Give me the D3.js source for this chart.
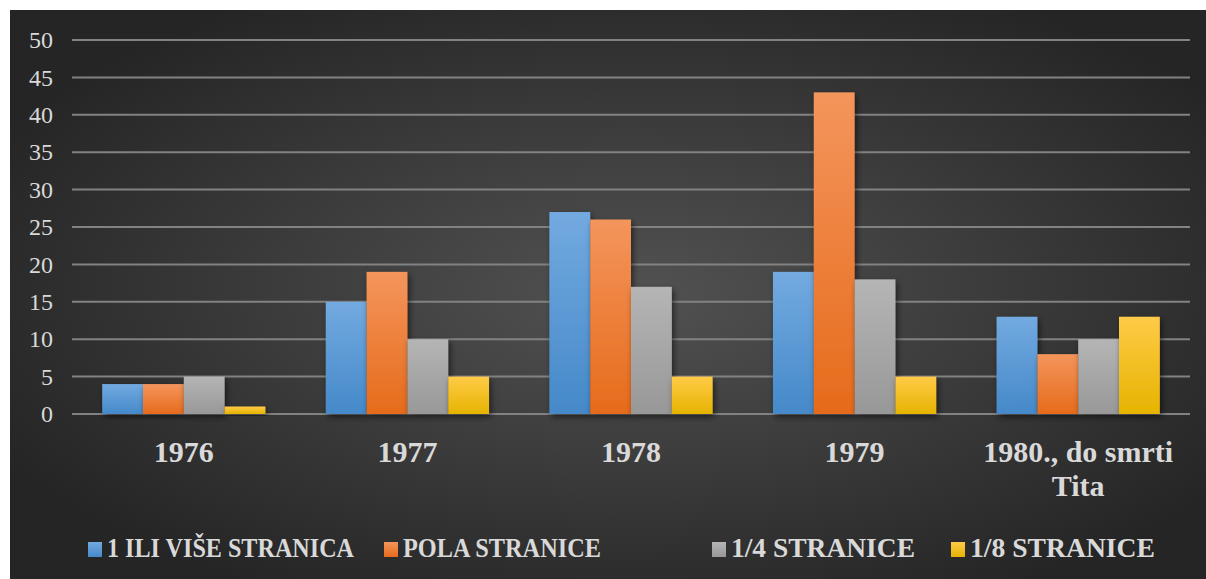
<!DOCTYPE html>
<html>
<head>
<meta charset="utf-8">
<script src="https://cdn.jsdelivr.net/npm/d3@7"></script>
<style>
body { margin: 0; background: #fff; }
svg text { font-family: "Liberation Serif", "Times New Roman", Times, serif; fill: #d9d9d9; }
</style>
</head>
<body>
<div id="chart"></div>
<script>
var categories = ["1976", "1977", "1978", "1979", "1980., do smrti Tita"];
var seriesNames = ["1 ILI VIŠE STRANICA", "POLA STRANICE", "1/4 STRANICE", "1/8 STRANICE"];
var jednaIliVise = [4, 15, 27, 19, 13];
var polaStranice = [4, 19, 26, 43, 8];
var cetvrtStranice = [5, 10, 17, 18, 10];
var osminaStranice = [1, 5, 5, 5, 13];
var yTicks = [0, 5, 10, 15, 20, 25, 30, 35, 40, 45, 50];

var seriesValues = [jednaIliVise, polaStranice, cetvrtStranice, osminaStranice];
var colorsTop = ["#73aae0", "#f4955c", "#b5b5b5", "#ffcb48"];
var colorsBot = ["#4589c9", "#e66b1b", "#989898", "#e6b300"];

var w = 1206, h = 579;
var svg = d3.select("#chart").append("svg")
	.attr("width", w)
	.attr("height", h);

var defs = svg.append("defs");
var bg = defs.append("radialGradient")
	.attr("id", "bg")
	.attr("cx", "52%").attr("cy", "50%").attr("r", "60%");
bg.append("stop").attr("offset", "0%").attr("stop-color", "#525252");
bg.append("stop").attr("offset", "100%").attr("stop-color", "#252525");

seriesNames.forEach(function(d, i) {
	var g = defs.append("linearGradient")
		.attr("id", "grad" + i)
		.attr("x1", 0).attr("y1", 0).attr("x2", 0).attr("y2", 1);
	g.append("stop").attr("offset", "0%").attr("stop-color", colorsTop[i]);
	g.append("stop").attr("offset", "100%").attr("stop-color", colorsBot[i]);
});

var shadow = defs.append("filter").attr("id", "shadow")
	.attr("x", "-20%").attr("y", "-10%").attr("width", "140%").attr("height", "130%");
shadow.append("feDropShadow")
	.attr("dx", 2).attr("dy", 3).attr("stdDeviation", 3)
	.attr("flood-color", "#000").attr("flood-opacity", 0.55);

svg.append("rect")
	.attr("x", 10).attr("y", 10)
	.attr("width", w - 10).attr("height", h - 10)
	.attr("fill", "url(#bg)");

var plotLeft = 72, plotRight = 1190, plotTop = 40, plotBottom = 414;

var x = d3.scaleBand()
	.domain(categories)
	.range([plotLeft, plotRight])
	.paddingInner(0.27)
	.paddingOuter(0.135);

var x1 = d3.scaleBand()
	.domain(d3.range(seriesNames.length))
	.range([0, x.bandwidth()]);

var y = d3.scaleLinear()
	.domain([0, 50])
	.range([plotBottom, plotTop]);

// grid lines
svg.append("g").selectAll("line")
	.data(yTicks)
	.enter()
	.append("line")
	.attr("x1", plotLeft).attr("x2", plotRight)
	.attr("y1", function(d) { return y(d); })
	.attr("y2", function(d) { return y(d); })
	.attr("stroke", "#828282")
	.attr("stroke-width", 2);

// y axis labels
var yAxis = d3.axisLeft(y).tickValues(yTicks).tickSize(0).tickPadding(0);
var yg = svg.append("g")
	.attr("transform", "translate(53,0)")
	.call(yAxis)
	.attr("font-family", null);
yg.select(".domain").remove();
yg.selectAll("text")
	.attr("fill", null)
	.style("font-size", "24px");

// bars
var groups = svg.append("g").selectAll("g")
	.data(categories)
	.enter()
	.append("g")
	.attr("transform", function(d) { return "translate(" + x(d) + ",0)"; });

groups.selectAll("rect")
	.data(function(d, ci) {
		return seriesValues.map(function(s, si) { return {s: si, v: s[ci]}; });
	})
	.enter()
	.append("rect")
	.attr("x", function(d) { return x1(d.s); })
	.attr("y", function(d) { return y(d.v); })
	.attr("width", x1.bandwidth())
	.attr("height", function(d) { return y(0) - y(d.v); })
	.attr("fill", function(d) { return "url(#grad" + d.s + ")"; })
	.attr("filter", "url(#shadow)");

// category labels
var catLines = {
	"1980., do smrti Tita": ["1980., do smrti", "Tita"]
};
var labels = svg.append("g").selectAll("text")
	.data(categories)
	.enter()
	.append("text")
	.attr("x", function(d) { return x(d) + x.bandwidth() / 2; })
	.attr("y", 462)
	.attr("text-anchor", "middle")
	.style("font-weight", "bold")
	.style("font-size", "30px");
labels.each(function(d) {
	var lines = catLines[d] || [d];
	var t = d3.select(this);
	lines.forEach(function(l, i) {
		t.append("tspan")
			.attr("x", x(d) + x.bandwidth() / 2)
			.attr("dy", i === 0 ? 0 : 34)
			.text(l);
	});
});

// legend
var legendX = [88, 384, 712, 951];
var legendW = [247, 198, 184, 185];
var legend = svg.append("g").selectAll("g")
	.data(seriesNames)
	.enter()
	.append("g")
	.attr("transform", function(d, i) { return "translate(" + legendX[i] + ",542)"; });
legend.append("rect")
	.attr("width", 14).attr("height", 15)
	.attr("fill", function(d, i) { return "url(#grad" + i + ")"; });
legend.append("text")
	.attr("x", 19)
	.attr("y", 15)
	.style("font-weight", "bold")
	.style("font-size", "27px")
	.attr("textLength", function(d, i) { return legendW[i]; })
	.attr("lengthAdjust", "spacingAndGlyphs")
	.text(function(d) { return d; });
</script>
</body>
</html>
